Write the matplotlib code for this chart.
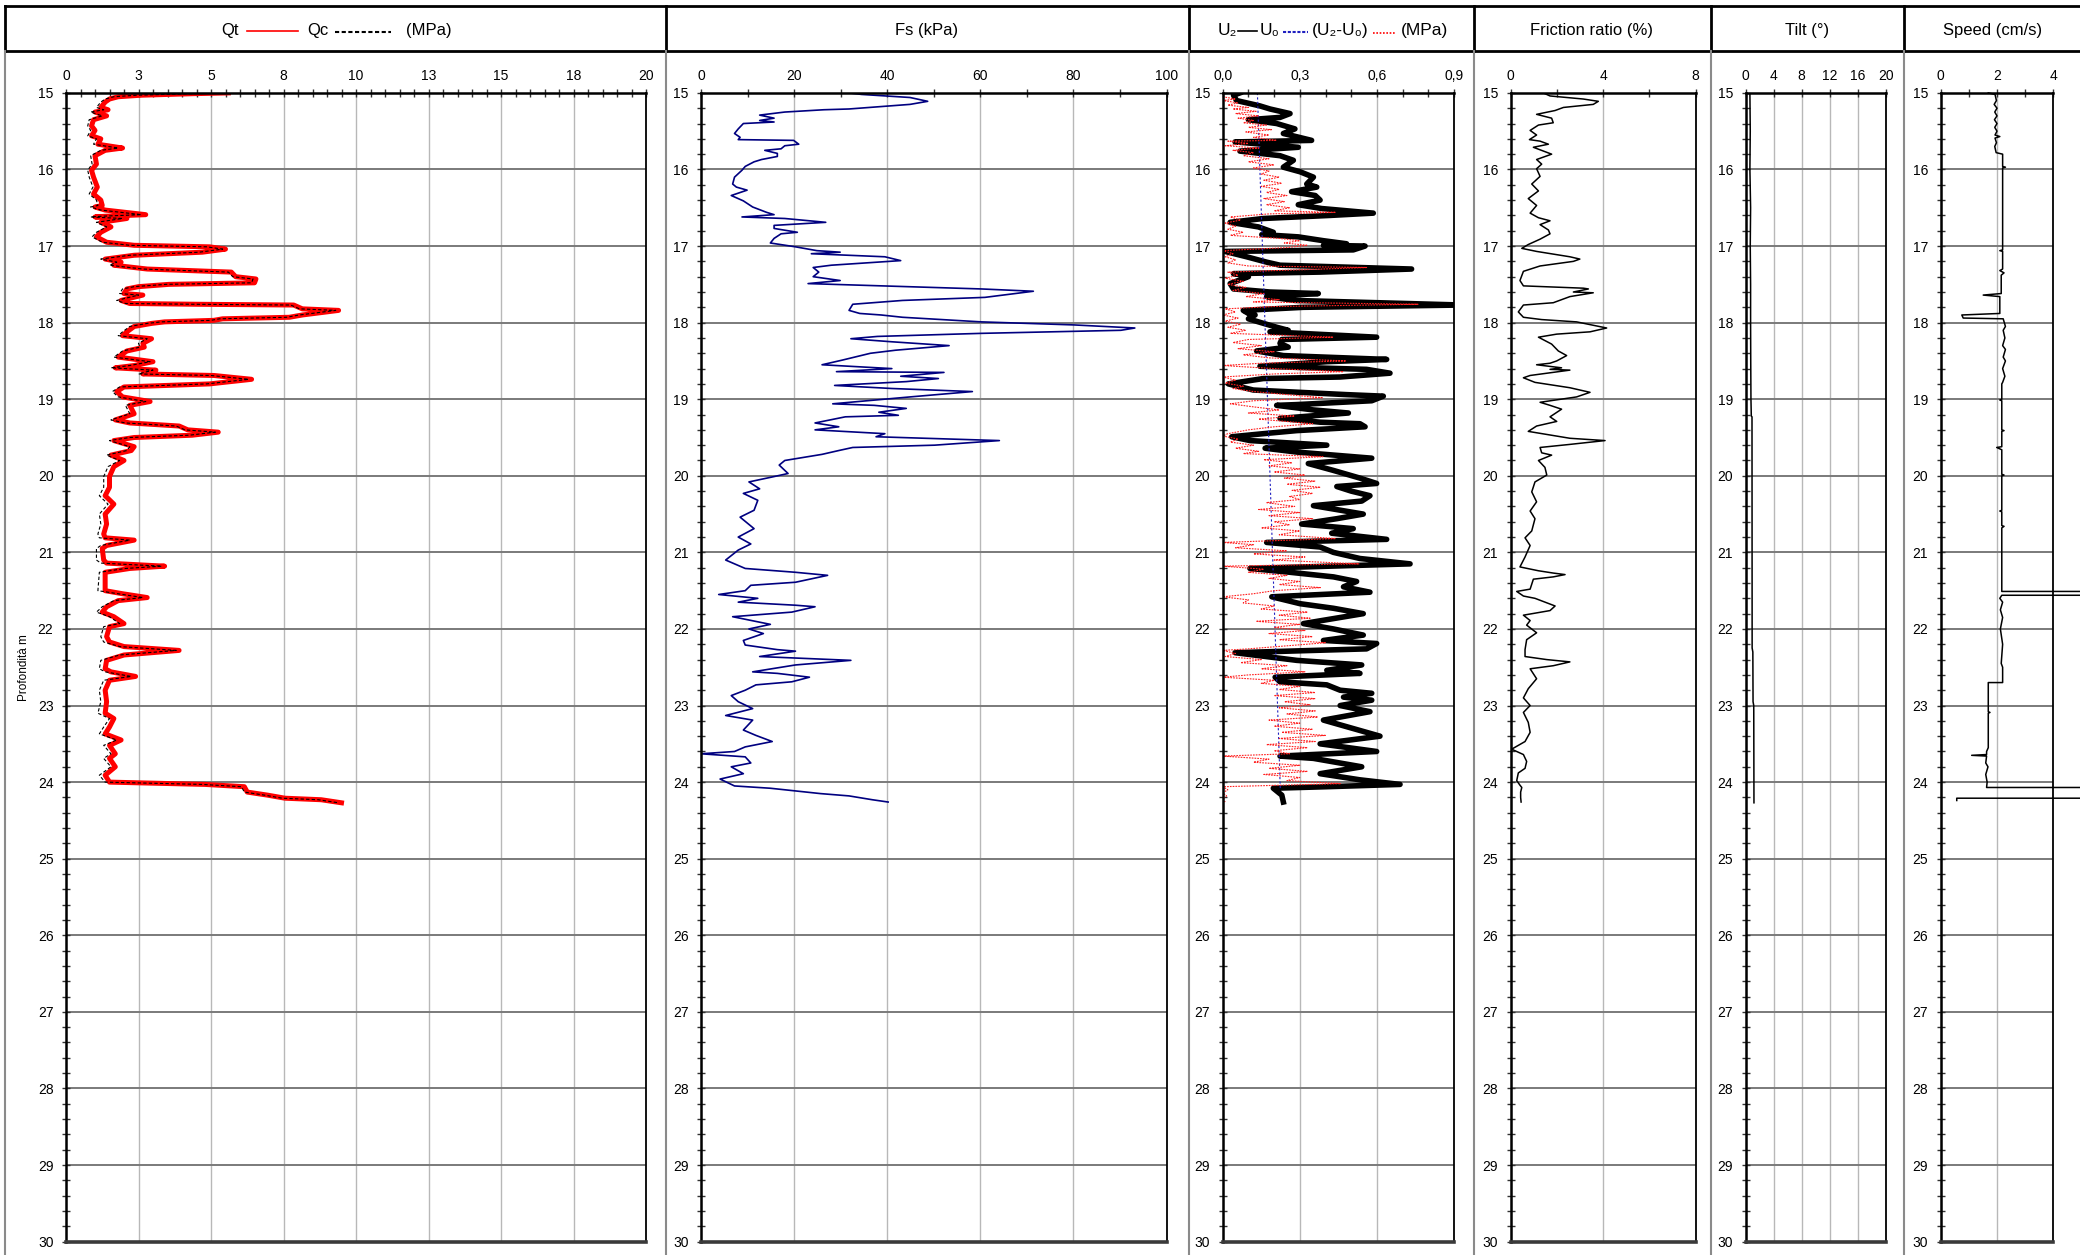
import matplotlib.pyplot as plt
from matplotlib.lines import Line2D
from matplotlib.ticker import MultipleLocator, FixedLocator

plt.rcParams['font.family'] = ['Liberation Sans', 'DejaVu Sans']

W, H = 2080, 1255
TOP, BOTTOM = 92.9, 1241.6

# --- CPT readings: (depth m, value) ---
# cone resistance: (depth, Qt, Qc) in MPa
QT_QC = [
    (15.00, 5.6, 5.5), (15.01, 4.4, 4.3), (15.03, 2.6, 2.45), (15.05, 1.8, 1.65), (15.08, 1.5, 1.35),
    (15.12, 1.35, 1.2), (15.19, 1.2, 1.05), (15.22, 1.45, 1.3), (15.25, 1.0, 0.85), (15.30, 1.4, 1.25),
    (15.35, 0.95, 0.8), (15.43, 0.88, 0.75), (15.49, 1.0, 0.85), (15.56, 0.88, 0.75), (15.60, 1.2, 1.05),
    (15.67, 1.1, 0.95), (15.72, 1.95, 1.8), (15.75, 1.35, 1.2), (15.82, 1.0, 0.85), (15.93, 1.05, 0.9),
    (16.01, 0.88, 0.75), (16.10, 0.95, 0.8), (16.23, 1.08, 0.93), (16.32, 0.95, 0.8), (16.40, 1.2, 1.05),
    (16.47, 1.25, 1.1), (16.49, 1.0, 0.85), (16.53, 1.35, 1.2), (16.59, 2.75, 2.6), (16.61, 1.4, 1.25),
    (16.62, 1.0, 0.85), (16.64, 2.1, 1.95), (16.69, 1.2, 1.05), (16.75, 1.55, 1.4), (16.82, 1.2, 1.05),
    (16.88, 1.05, 0.9), (16.95, 1.4, 1.25), (16.99, 2.35, 2.2), (17.01, 4.95, 4.85), (17.04, 5.5, 5.4),
    (17.08, 4.7, 4.6), (17.12, 2.35, 2.2), (17.17, 1.35, 1.2), (17.21, 1.9, 1.75), (17.25, 1.65, 1.5),
    (17.30, 2.8, 2.65), (17.34, 5.7, 5.6), (17.40, 5.85, 5.75), (17.43, 6.55, 6.45), (17.48, 6.5, 6.4),
    (17.50, 3.55, 3.45), (17.53, 2.5, 2.35), (17.56, 2.1, 1.95), (17.62, 2.0, 1.85), (17.64, 2.65, 2.5),
    (17.71, 1.9, 1.75), (17.75, 2.2, 2.05), (17.76, 4.5, 4.4), (17.77, 7.85, 7.75), (17.82, 8.15, 8.05),
    (17.84, 9.4, 9.3), (17.90, 8.15, 8.05), (17.93, 7.7, 7.6), (17.95, 5.4, 5.3), (17.97, 5.1, 5.0),
    (17.99, 3.4, 3.3), (18.01, 2.95, 2.8), (18.05, 2.35, 2.2), (18.12, 2.1, 1.95), (18.17, 1.95, 1.8),
    (18.21, 2.95, 2.8), (18.27, 2.65, 2.5), (18.32, 2.7, 2.55), (18.37, 2.1, 1.95), (18.45, 1.8, 1.65),
    (18.51, 3.0, 2.9), (18.56, 2.35, 2.2), (18.59, 1.7, 1.55), (18.62, 3.1, 3.0), (18.67, 2.65, 2.5),
    (18.69, 5.1, 5.0), (18.74, 6.4, 6.3), (18.80, 4.95, 4.85), (18.84, 2.0, 1.85), (18.90, 1.75, 1.6),
    (18.97, 1.95, 1.8), (19.03, 2.9, 2.75), (19.08, 2.2, 2.05), (19.19, 2.35, 2.2), (19.27, 1.7, 1.55),
    (19.31, 2.2, 2.05), (19.35, 3.9, 3.8), (19.40, 4.2, 4.1), (19.43, 5.25, 5.15), (19.47, 4.35, 4.25),
    (19.50, 2.35, 2.2), (19.54, 1.65, 1.5), (19.62, 2.35, 2.2), (19.67, 2.25, 2.1), (19.73, 1.55, 1.4),
    (19.80, 2.0, 1.85), (19.88, 1.65, 1.45), (20.01, 1.5, 1.3), (20.15, 1.5, 1.3), (20.26, 1.35, 1.15),
    (20.37, 1.65, 1.45), (20.50, 1.35, 1.15), (20.63, 1.4, 1.2), (20.76, 1.3, 1.1), (20.81, 1.35, 1.15),
    (20.84, 2.35, 2.2), (20.91, 1.4, 1.2), (20.95, 1.25, 1.05), (21.10, 1.3, 1.05), (21.14, 1.4, 1.2),
    (21.18, 3.4, 3.3), (21.21, 2.2, 2.05), (21.26, 1.35, 1.15), (21.50, 1.35, 1.1), (21.54, 1.95, 1.8),
    (21.59, 2.8, 2.65), (21.63, 1.8, 1.65), (21.71, 1.4, 1.25), (21.78, 1.25, 1.05), (21.84, 1.65, 1.5),
    (21.93, 2.0, 1.85), (21.97, 1.5, 1.3), (22.10, 1.4, 1.2), (22.17, 1.5, 1.3), (22.23, 2.0, 1.85),
    (22.28, 3.9, 3.8), (22.34, 2.0, 1.85), (22.41, 1.4, 1.2), (22.52, 1.35, 1.15), (22.56, 1.55, 1.35),
    (22.62, 2.4, 2.25), (22.67, 1.5, 1.3), (22.80, 1.35, 1.15), (22.95, 1.4, 1.2), (23.10, 1.35, 1.1),
    (23.17, 1.65, 1.5), (23.28, 1.5, 1.3), (23.37, 1.35, 1.15), (23.45, 1.9, 1.75), (23.52, 1.5, 1.3),
    (23.63, 1.7, 1.55), (23.69, 1.5, 1.3), (23.80, 1.7, 1.55), (23.91, 1.35, 1.15), (24.00, 1.5, 1.35),
    (24.03, 4.8, 4.7), (24.06, 6.15, 6.05), (24.13, 6.25, 6.15), (24.17, 6.95, 6.85), (24.21, 7.55, 7.45),
    (24.23, 8.8, 8.7), (24.27, 9.5, 9.4),
]

# sleeve friction Fs (kPa)
FS = [
    (15.00, 31.8), (15.02, 34.5), (15.06, 44.9), (15.11, 48.7), (15.15, 44.9), (15.21, 31.8),
    (15.22, 26.4), (15.25, 18.0), (15.29, 12.6), (15.33, 15.7), (15.36, 12.6), (15.38, 15.7),
    (15.40, 9.1), (15.47, 8.0), (15.53, 7.2), (15.58, 8.4), (15.61, 8.0), (15.62, 19.9),
    (15.67, 21.0), (15.69, 18.0), (15.73, 17.2), (15.75, 13.7), (15.79, 16.4), (15.83, 16.4),
    (15.87, 13.0), (15.90, 11.4), (15.96, 9.5), (16.01, 8.8), (16.10, 7.2), (16.19, 6.8),
    (16.23, 7.6), (16.27, 9.9), (16.34, 6.5), (16.41, 9.1), (16.49, 11.1), (16.56, 14.1),
    (16.59, 15.7), (16.62, 8.8), (16.64, 18.0), (16.69, 26.8), (16.73, 15.7), (16.77, 15.7),
    (16.82, 20.7), (16.84, 17.2), (16.90, 15.7), (16.96, 14.9), (17.01, 20.3), (17.06, 24.9),
    (17.08, 29.9), (17.10, 23.7), (17.14, 39.5), (17.19, 42.9), (17.25, 28.0), (17.28, 24.1),
    (17.34, 25.3), (17.40, 24.1), (17.45, 29.9), (17.49, 23.0), (17.56, 60.2), (17.59, 71.4),
    (17.67, 61.0), (17.71, 43.3), (17.76, 32.6), (17.84, 31.8), (17.88, 34.1), (17.90, 38.7),
    (17.93, 43.3), (17.99, 60.2), (18.03, 80.2), (18.07, 93.2), (18.10, 90.2), (18.14, 60.2),
    (18.18, 37.9), (18.21, 32.2), (18.25, 41.0), (18.30, 53.3), (18.36, 41.8), (18.40, 36.4),
    (18.49, 30.3), (18.55, 26.0), (18.60, 41.0), (18.64, 29.1), (18.65, 52.2), (18.70, 42.9),
    (18.73, 51.0), (18.77, 44.1), (18.82, 28.7), (18.86, 41.0), (18.90, 58.3), (18.97, 44.9),
    (19.06, 28.3), (19.08, 37.2), (19.12, 44.1), (19.17, 38.2), (19.21, 42.4), (19.23, 31.0),
    (19.31, 24.5), (19.36, 29.6), (19.40, 24.5), (19.45, 39.5), (19.49, 37.6), (19.54, 64.1),
    (19.60, 50.2), (19.63, 32.6), (19.67, 29.6), (19.72, 26.0), (19.80, 18.0), (19.86, 16.8),
    (19.97, 18.7), (20.01, 15.7), (20.08, 10.3), (20.17, 12.6), (20.23, 9.1), (20.32, 12.2),
    (20.45, 11.4), (20.54, 8.4), (20.69, 11.4), (20.80, 8.0), (20.89, 10.7), (20.97, 8.0),
    (21.10, 5.3), (21.21, 9.5), (21.26, 20.3), (21.30, 27.2), (21.39, 20.3), (21.43, 10.7),
    (21.50, 9.5), (21.55, 3.8), (21.60, 12.2), (21.65, 8.0), (21.69, 20.3), (21.71, 24.5),
    (21.78, 19.5), (21.84, 6.8), (21.94, 14.9), (22.00, 10.3), (22.06, 13.4), (22.15, 9.1),
    (22.21, 9.5), (22.27, 16.4), (22.29, 20.3), (22.36, 12.6), (22.41, 32.2), (22.47, 20.3),
    (22.56, 11.1), (22.58, 16.4), (22.63, 23.3), (22.69, 19.5), (22.73, 11.8), (22.80, 9.5),
    (22.87, 6.5), (22.95, 8.0), (23.04, 11.1), (23.13, 5.3), (23.19, 11.1), (23.32, 9.1),
    (23.39, 11.8), (23.47, 15.3), (23.54, 9.5), (23.60, 7.2), (23.63, 0.0), (23.67, 9.5),
    (23.75, 10.7), (23.80, 6.5), (23.89, 9.1), (23.96, 4.1), (24.05, 7.2), (24.08, 14.9),
    (24.15, 25.7), (24.18, 31.8), (24.23, 36.8), (24.26, 40.2),
]

# pore pressure U2 (MPa)
U2 = [
    (15.00, 0.067), (15.03, 0.042), (15.10, 0.054), (15.17, 0.145), (15.21, 0.184), (15.27, 0.262),
    (15.32, 0.223), (15.35, 0.10), (15.40, 0.21), (15.47, 0.281), (15.53, 0.236), (15.62, 0.346),
    (15.63, 0.21), (15.64, 0.048), (15.71, 0.294), (15.76, 0.067), (15.82, 0.223), (15.88, 0.275),
    (15.97, 0.236), (16.03, 0.301), (16.10, 0.353), (16.19, 0.327), (16.23, 0.366), (16.29, 0.268),
    (16.34, 0.36), (16.40, 0.379), (16.46, 0.294), (16.51, 0.385), (16.57, 0.586), (16.60, 0.418),
    (16.64, 0.158), (16.69, 0.029), (16.75, 0.139), (16.82, 0.197), (16.85, 0.152), (16.88, 0.294),
    (16.93, 0.392), (16.97, 0.482), (16.99, 0.392), (17.00, 0.554), (17.05, 0.508), (17.07, 0.009),
    (17.14, 0.093), (17.21, 0.171), (17.25, 0.223), (17.30, 0.735), (17.34, 0.379), (17.36, 0.042),
    (17.38, 0.08), (17.40, 0.10), (17.49, 0.029), (17.56, 0.042), (17.60, 0.184), (17.62, 0.372),
    (17.66, 0.171), (17.71, 0.281), (17.77, 0.93), (17.80, 0.314), (17.84, 0.08), (17.88, 0.10),
    (17.90, 0.126), (17.95, 0.10), (17.99, 0.139), (18.06, 0.21), (18.10, 0.255), (18.12, 0.184),
    (18.19, 0.599), (18.22, 0.23), (18.27, 0.223), (18.32, 0.255), (18.37, 0.132), (18.43, 0.236),
    (18.48, 0.638), (18.51, 0.405), (18.57, 0.145), (18.61, 0.56), (18.66, 0.651), (18.71, 0.457),
    (18.73, 0.158), (18.80, 0.022), (18.88, 0.119), (18.94, 0.482), (18.96, 0.625), (19.02, 0.58),
    (19.07, 0.288), (19.08, 0.21), (19.14, 0.353), (19.18, 0.489), (19.25, 0.223), (19.30, 0.379),
    (19.32, 0.534), (19.36, 0.554), (19.41, 0.288), (19.45, 0.158), (19.49, 0.035), (19.54, 0.106),
    (19.60, 0.405), (19.64, 0.165), (19.69, 0.288), (19.77, 0.58), (19.84, 0.333), (19.93, 0.431),
    (20.03, 0.534), (20.10, 0.599), (20.14, 0.444), (20.20, 0.50), (20.26, 0.573), (20.33, 0.541),
    (20.39, 0.353), (20.50, 0.547), (20.56, 0.444), (20.63, 0.307), (20.69, 0.508), (20.75, 0.424),
    (20.83, 0.638), (20.87, 0.171), (20.93, 0.379), (21.00, 0.431), (21.08, 0.534), (21.15, 0.729),
    (21.21, 0.106), (21.26, 0.262), (21.32, 0.431), (21.38, 0.521), (21.45, 0.47), (21.52, 0.573),
    (21.58, 0.191), (21.67, 0.301), (21.73, 0.431), (21.80, 0.547), (21.93, 0.314), (22.00, 0.431),
    (22.08, 0.547), (22.15, 0.392), (22.19, 0.599), (22.26, 0.56), (22.31, 0.048), (22.41, 0.288),
    (22.47, 0.541), (22.54, 0.405), (22.58, 0.534), (22.63, 0.204), (22.69, 0.223), (22.73, 0.405),
    (22.80, 0.457), (22.84, 0.58), (22.89, 0.47), (22.93, 0.58), (23.00, 0.457), (23.08, 0.573),
    (23.19, 0.392), (23.30, 0.508), (23.40, 0.612), (23.50, 0.379), (23.60, 0.599), (23.66, 0.223),
    (23.69, 0.353), (23.80, 0.541), (23.89, 0.379), (23.97, 0.534), (24.03, 0.69), (24.06, 0.405),
    (24.08, 0.197), (24.17, 0.23), (24.26, 0.236),
]

# hydrostatic U0 (MPa)
U0 = [(15.00, 0.135), (24.08, 0.224)]

# excess pore pressure U2-U0 (MPa)
DU = [
    (15.05, 0.00), (15.08, 0.05), (15.10, 0.00), (15.13, 0.06), (15.16, 0.02), (15.19, 0.10),
    (15.21, 0.04), (15.24, 0.13), (15.27, 0.05), (15.30, 0.14), (15.33, 0.06), (15.36, 0.12),
    (15.39, 0.08), (15.42, 0.17), (15.45, 0.10), (15.48, 0.19), (15.51, 0.09), (15.55, 0.18),
    (15.58, 0.12), (15.62, 0.21), (15.63, 0.02), (15.66, 0.10), (15.69, 0.01), (15.72, 0.14),
    (15.75, 0.04), (15.78, 0.12), (15.82, 0.08), (15.86, 0.18), (15.90, 0.10), (15.94, 0.20),
    (15.98, 0.12), (16.02, 0.18), (16.06, 0.15), (16.10, 0.22), (16.14, 0.16), (16.18, 0.23),
    (16.22, 0.15), (16.26, 0.22), (16.30, 0.17), (16.34, 0.25), (16.38, 0.16), (16.42, 0.24),
    (16.46, 0.17), (16.50, 0.26), (16.54, 0.20), (16.56, 0.44), (16.58, 0.18), (16.62, 0.03),
    (16.66, 0.07), (16.70, 0.01), (16.74, 0.05), (16.78, 0.02), (16.82, 0.08), (16.86, 0.03),
    (16.90, 0.22), (16.93, 0.30), (16.96, 0.24), (16.99, 0.33), (17.02, 0.25), (17.06, 0.00),
    (17.10, 0.04), (17.14, 0.01), (17.18, 0.05), (17.22, 0.02), (17.26, 0.10), (17.28, 0.56),
    (17.31, 0.30), (17.34, 0.02), (17.38, 0.06), (17.42, 0.01), (17.46, 0.08), (17.50, 0.02),
    (17.54, 0.09), (17.58, 0.04), (17.62, 0.16), (17.66, 0.09), (17.70, 0.22), (17.73, 0.12),
    (17.76, 0.76), (17.79, 0.20), (17.82, 0.01), (17.86, 0.05), (17.90, 0.00), (17.94, 0.06),
    (17.98, 0.01), (18.02, 0.07), (18.06, 0.02), (18.10, 0.09), (18.14, 0.03), (18.19, 0.43),
    (18.22, 0.10), (18.26, 0.04), (18.30, 0.15), (18.34, 0.06), (18.38, 0.20), (18.42, 0.08),
    (18.46, 0.18), (18.50, 0.48), (18.53, 0.15), (18.56, 0.00), (18.60, 0.20), (18.64, 0.47),
    (18.67, 0.20), (18.71, 0.00), (18.75, 0.05), (18.79, 0.01), (18.83, 0.08), (18.86, 0.04),
    (18.90, 0.12), (18.94, 0.25), (18.98, 0.39), (19.02, 0.12), (19.06, 0.03), (19.10, 0.12),
    (19.14, 0.22), (19.18, 0.10), (19.22, 0.28), (19.26, 0.14), (19.32, 0.35), (19.36, 0.20),
    (19.40, 0.10), (19.45, 0.02), (19.48, 0.00), (19.52, 0.06), (19.56, 0.03), (19.60, 0.12),
    (19.64, 0.05), (19.68, 0.14), (19.71, 0.08), (19.75, 0.39), (19.79, 0.16), (19.83, 0.27),
    (19.87, 0.18), (19.91, 0.30), (19.95, 0.20), (19.99, 0.32), (20.03, 0.24), (20.07, 0.36),
    (20.11, 0.25), (20.15, 0.38), (20.19, 0.27), (20.23, 0.35), (20.27, 0.26), (20.31, 0.30),
    (20.35, 0.17), (20.40, 0.28), (20.44, 0.14), (20.48, 0.30), (20.52, 0.18), (20.56, 0.35),
    (20.60, 0.20), (20.64, 0.26), (20.68, 0.15), (20.72, 0.30), (20.77, 0.22), (20.82, 0.44),
    (20.87, 0.00), (20.90, 0.12), (20.94, 0.05), (20.98, 0.25), (21.02, 0.12), (21.06, 0.32),
    (21.10, 0.20), (21.15, 0.53), (21.18, 0.00), (21.22, 0.16), (21.26, 0.10), (21.30, 0.25),
    (21.34, 0.18), (21.38, 0.30), (21.42, 0.22), (21.46, 0.38), (21.50, 0.20), (21.54, 0.12),
    (21.58, 0.00), (21.62, 0.10), (21.66, 0.08), (21.70, 0.20), (21.74, 0.15), (21.78, 0.33),
    (21.82, 0.22), (21.86, 0.34), (21.90, 0.13), (21.94, 0.30), (21.98, 0.20), (22.02, 0.32),
    (22.06, 0.18), (22.10, 0.35), (22.14, 0.22), (22.18, 0.40), (22.22, 0.25), (22.26, 0.10),
    (22.28, 0.00), (22.32, 0.05), (22.36, 0.01), (22.40, 0.15), (22.44, 0.07), (22.48, 0.25),
    (22.52, 0.15), (22.56, 0.32), (22.60, 0.10), (22.63, 0.00), (22.67, 0.20), (22.71, 0.15),
    (22.75, 0.30), (22.79, 0.22), (22.83, 0.36), (22.87, 0.20), (22.91, 0.36), (22.95, 0.24),
    (22.99, 0.34), (23.03, 0.22), (23.07, 0.36), (23.11, 0.25), (23.15, 0.37), (23.19, 0.18),
    (23.23, 0.30), (23.27, 0.20), (23.31, 0.35), (23.35, 0.23), (23.39, 0.40), (23.43, 0.22),
    (23.47, 0.36), (23.51, 0.17), (23.55, 0.33), (23.59, 0.20), (23.63, 0.26), (23.66, 0.00),
    (23.70, 0.18), (23.74, 0.12), (23.78, 0.30), (23.82, 0.18), (23.86, 0.33), (23.90, 0.16),
    (23.94, 0.30), (23.98, 0.25), (24.02, 0.46), (24.06, 0.00), (24.10, 0.02), (24.14, 0.00),
    (24.18, 0.015), (24.22, 0.00), (24.26, 0.01),
]

# friction ratio (%)
RF = [
    (15.00, 1.41), (15.04, 1.7), (15.08, 3.14), (15.11, 3.79), (15.15, 3.57), (15.19, 2.28),
    (15.23, 1.92), (15.28, 1.12), (15.33, 1.77), (15.39, 1.84), (15.42, 1.2), (15.49, 0.84),
    (15.55, 1.12), (15.61, 0.81), (15.63, 1.27), (15.67, 1.63), (15.71, 0.98), (15.80, 1.77),
    (15.87, 1.12), (15.93, 1.34), (15.99, 1.12), (16.09, 1.27), (16.19, 0.91), (16.28, 1.2),
    (16.38, 0.76), (16.47, 1.12), (16.57, 0.84), (16.63, 1.2), (16.67, 1.7), (16.72, 1.27),
    (16.79, 1.63), (16.84, 1.7), (16.91, 1.27), (16.98, 0.76), (17.03, 0.48), (17.07, 1.12),
    (17.14, 2.56), (17.17, 2.99), (17.20, 2.71), (17.26, 1.27), (17.33, 0.55), (17.45, 0.40),
    (17.52, 0.55), (17.55, 3.14), (17.56, 3.36), (17.60, 2.71), (17.61, 3.57), (17.66, 2.56),
    (17.74, 1.84), (17.77, 0.55), (17.86, 0.33), (17.93, 0.55), (17.96, 1.34), (17.99, 2.85),
    (18.07, 4.15), (18.12, 3.43), (18.15, 1.99), (18.19, 1.2), (18.28, 1.77), (18.37, 2.06),
    (18.43, 2.42), (18.50, 1.99), (18.53, 1.7), (18.55, 1.12), (18.59, 2.2), (18.61, 1.7),
    (18.62, 2.56), (18.69, 0.84), (18.72, 0.55), (18.78, 1.05), (18.85, 2.56), (18.91, 3.43),
    (18.97, 2.85), (19.04, 1.27), (19.08, 1.7), (19.13, 2.2), (19.23, 1.7), (19.29, 1.99),
    (19.35, 1.12), (19.42, 0.76), (19.46, 1.56), (19.51, 2.56), (19.54, 4.08), (19.59, 2.56),
    (19.63, 1.27), (19.70, 1.34), (19.73, 1.77), (19.80, 1.2), (19.89, 1.48), (19.99, 1.56),
    (20.08, 1.05), (20.21, 0.91), (20.34, 1.12), (20.46, 0.84), (20.56, 1.05), (20.72, 0.91),
    (20.81, 0.62), (20.91, 0.84), (21.06, 0.62), (21.19, 0.40), (21.24, 1.2), (21.27, 1.84),
    (21.29, 2.35), (21.32, 1.84), (21.35, 0.98), (21.48, 0.84), (21.51, 0.26), (21.57, 0.55),
    (21.60, 1.05), (21.70, 1.92), (21.76, 1.7), (21.82, 0.55), (21.89, 0.84), (21.95, 0.69),
    (22.05, 1.12), (22.14, 0.69), (22.27, 0.62), (22.36, 0.62), (22.40, 1.56), (22.43, 2.56),
    (22.48, 1.84), (22.52, 0.84), (22.65, 1.12), (22.78, 0.76), (22.90, 0.55), (23.00, 0.84),
    (23.09, 0.55), (23.22, 0.76), (23.35, 0.84), (23.47, 0.62), (23.57, 0.04), (23.64, 0.55),
    (23.73, 0.69), (23.82, 0.62), (23.88, 0.33), (23.98, 0.26), (24.04, 0.40), (24.07, 0.48),
    (24.13, 0.43), (24.20, 0.43), (24.26, 0.45),
]

# inclination (deg)
TILT = [
    (15.00, 0.6), (15.50, 0.65), (16.00, 0.6), (16.50, 0.7), (17.00, 0.65), (17.50, 0.7),
    (18.00, 0.7), (18.50, 0.72), (19.00, 0.75), (19.22, 0.8), (19.23, 0.9), (22.25, 0.92),
    (22.30, 1.02), (22.95, 1.05), (23.00, 1.15), (24.27, 1.18),
]

# penetration speed (cm/s)
SPEED = [
    (15.00, 1.69), (15.02, 1.93), (15.10, 1.98), (15.15, 1.90), (15.20, 2.00), (15.25, 1.92),
    (15.30, 2.00), (15.35, 1.91), (15.40, 2.00), (15.45, 1.92), (15.50, 2.00), (15.55, 1.93),
    (15.57, 2.10), (15.59, 1.93), (15.65, 1.98), (15.70, 1.92), (15.78, 1.97), (15.80, 2.20),
    (15.96, 2.20), (15.97, 2.30), (15.98, 2.20), (17.05, 2.20), (17.06, 2.10), (17.07, 2.20),
    (17.30, 2.20), (17.32, 2.10), (17.35, 2.25), (17.38, 2.15), (17.62, 2.15), (17.64, 1.51),
    (17.66, 2.10), (17.88, 2.10), (17.90, 0.75), (17.94, 0.80), (17.95, 2.22), (18.05, 2.30),
    (18.10, 2.22), (18.20, 2.28), (18.30, 2.20), (18.35, 2.30), (18.45, 2.22), (18.50, 2.30),
    (18.60, 2.20), (18.70, 2.28), (18.78, 2.20), (18.80, 2.17), (19.00, 2.17), (19.01, 2.10),
    (19.02, 2.17), (19.40, 2.17), (19.41, 2.25), (19.42, 2.17), (19.62, 2.17), (19.63, 1.99),
    (19.66, 2.17), (19.98, 2.17), (19.99, 2.25), (20.00, 2.17), (20.45, 2.17), (20.46, 2.10),
    (20.47, 2.17), (20.65, 2.17), (20.66, 2.25), (20.68, 2.17), (21.51, 2.17), (21.51, 6.0),
    (21.56, 6.0), (21.56, 2.17), (21.60, 2.10), (21.65, 2.20), (21.75, 2.12), (21.85, 2.20),
    (22.00, 2.12), (22.20, 2.20), (22.45, 2.15), (22.50, 2.20), (22.70, 2.20), (22.70, 1.69),
    (23.08, 1.69), (23.09, 1.75), (23.10, 1.69), (23.55, 1.69), (23.60, 1.63), (23.64, 1.63),
    (23.65, 1.10), (23.66, 1.63), (23.75, 1.60), (23.80, 1.68), (23.90, 1.60), (24.00, 1.65),
    (24.07, 1.63), (24.07, 6.0), (24.21, 6.0), (24.21, 0.57), (24.24, 0.57),
]

QT_TICKS = [0, 2.5, 5, 7.5, 10, 12.5, 15, 17.5, 20]
QT_LABELS = ['0', '3', '5', '8', '10', '13', '15', '18', '20']
U_TICKS = [0, 0.3, 0.6, 0.9]
U_LABELS = ['0,0', '0,3', '0,6', '0,9']

fig = plt.figure(figsize=(W / 100, H / 100), dpi=100)


def fx(x):
    return x / W


def fy(y):
    return 1 - y / H


def fig_line(xs, ys, **kw):
    fig.add_artist(Line2D([fx(x) for x in xs], [fy(y) for y in ys],
                          transform=fig.transFigure, **kw))


def panel(x0, x1, xmax, ticks, minor, labels=None):
    ax = fig.add_axes([fx(x0), fy(BOTTOM), (x1 - x0) / W, (BOTTOM - TOP) / H])
    ax.set_xlim(0, xmax)
    ax.set_ylim(30, 15)
    ax.xaxis.set_major_locator(FixedLocator(ticks))
    ax.xaxis.set_minor_locator(MultipleLocator(minor))
    if labels:
        ax.set_xticklabels(labels)
    ax.yaxis.set_major_locator(MultipleLocator(1))
    ax.yaxis.set_minor_locator(MultipleLocator(0.2))
    ax.xaxis.tick_top()
    ax.tick_params(which='both', direction='inout', length=6, width=1, color='#333333',
                   labelsize=10, top=True, bottom=False, left=True, right=False)
    ax.tick_params(axis='x', which='major', pad=4)
    ax.tick_params(axis='y', which='major', pad=6)
    ax.grid(axis='x', color='#b8b8b8', lw=1)
    ax.grid(axis='y', color='#7a7a7a', lw=1.4)
    ax.set_axisbelow(True)
    for s in ax.spines.values():
        s.set_color('black')
        s.set_linewidth(1.3)
    ax.spines['left'].set_linewidth(1.8)
    ax.spines['top'].set_linewidth(1.8)
    ax.spines['bottom'].set_color('#3a3a3a')
    ax.spines['bottom'].set_linewidth(2.6)
    return ax


def cols(points):
    return [list(c) for c in zip(*points)]


# --- cone resistance ---
ax = panel(66, 646, 20, QT_TICKS, 0.5, QT_LABELS)
d, qt, qc = cols(QT_QC)
ax.plot(qt, d, color='#ff0000', lw=3.6, solid_joinstyle='round')
ax.plot(qc, d, color='black', lw=0.8, ls=(0, (3, 2)))

# --- sleeve friction ---
ax = panel(701, 1166.5, 100, [0, 20, 40, 60, 80, 100], 10)
d, v = cols(FS)
ax.plot(v, d, color='#000080', lw=1.2)

# --- pore pressure ---
ax = panel(1222.7, 1454, 0.9, U_TICKS, 0.1, U_LABELS)
d, v = cols(U2)
ax.plot(v, d, color='black', lw=4, solid_joinstyle='round')
d, v = cols(U0)
ax.plot(v, d, color='#2020c0', lw=0.8, ls=(0, (2, 2)))
d, v = cols(DU)
ax.plot(v, d, color='#ff2020', lw=0.8, ls=(0, (1.5, 1)))

# --- friction ratio ---
ax = panel(1510.7, 1695.7, 8, [0, 4, 8], 2)
d, v = cols(RF)
ax.plot(v, d, color='black', lw=1.1)

# --- tilt ---
ax = panel(1745.7, 1885.7, 20, [0, 4, 8, 12, 16, 20], 4)
d, v = cols(TILT)
ax.plot(v, d, color='black', lw=1.1)

# --- speed ---
ax = panel(1940.7, 2053.3, 4, [0, 2, 4], 1)
d, v = cols(SPEED)
ax.plot(v, d, color='black', lw=1.1, clip_on=False)

fig.text(fx(24), fy(668), 'Profondità m', rotation=90, fontsize=8.5,
         ha='center', va='center')

# --- header boxes ---
SEPARATORS = [5, 666, 1188.6, 1474, 1710.5, 1903.5]
fig_line([5, W], [6, 6], color='black', lw=2)
fig_line([5, W], [51, 51], color='black', lw=2)
for x in SEPARATORS:
    fig_line([x, x], [6, 51], color='black', lw=2)
    fig_line([x, x], [51, H], color='#8a8a8a', lw=1.5)

HY = 31
FS_HEAD = 12
fig.text(fx(221), fy(HY), 'Qt', fontsize=FS_HEAD, va='center')
fig_line([247, 298], [HY, HY], color='red', lw=1.2)
fig.text(fx(307), fy(HY), 'Qc', fontsize=FS_HEAD, va='center')
fig_line([335, 391], [HY + 1, HY + 1], color='black', lw=1.5, ls=(0, (2, 1.2)))
fig.text(fx(406), fy(HY), '(MPa)', fontsize=FS_HEAD, va='center')

fig.text(fx(927), fy(HY), 'Fs (kPa)', fontsize=FS_HEAD, ha='center', va='center')

fig.text(fx(1218), fy(HY), 'U₂', fontsize=FS_HEAD + 0.5, va='center')
fig_line([1238, 1257], [HY, HY], color='black', lw=1.2)
fig.text(fx(1260), fy(HY), 'U₀', fontsize=FS_HEAD + 0.5, va='center')
fig_line([1283, 1308], [HY + 1, HY + 1], color='#2020c0', lw=1.5, ls=(0, (1.5, 0.8)))
fig.text(fx(1312), fy(HY), '(U₂-U₀)', fontsize=FS_HEAD + 0.5, va='center')
fig_line([1373, 1396], [HY + 2, HY + 2], color='red', lw=1.2, ls=(0, (1, 1)))
fig.text(fx(1401), fy(HY), '(MPa)', fontsize=FS_HEAD + 0.5, va='center')

fig.text(fx(1592), fy(HY), 'Friction ratio (%)', fontsize=FS_HEAD, ha='center', va='center')
fig.text(fx(1807), fy(HY), 'Tilt (°)', fontsize=FS_HEAD, ha='center', va='center')
fig.text(fx(1993), fy(HY), 'Speed (cm/s)', fontsize=FS_HEAD, ha='center', va='center')

fig.savefig('out.png', dpi=100)
